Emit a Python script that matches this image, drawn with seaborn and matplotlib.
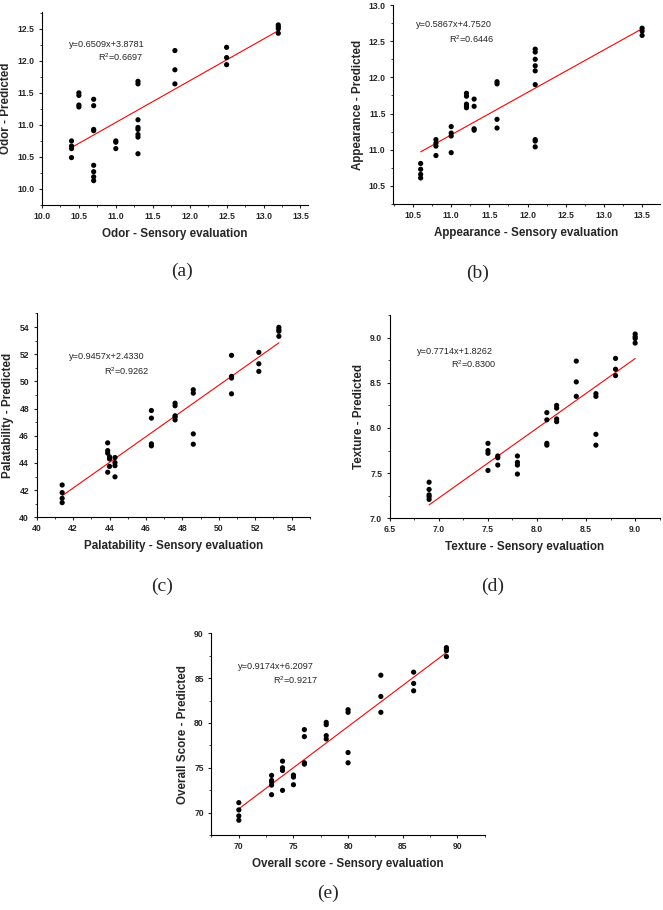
import numpy as np
import pandas as pd
import matplotlib
matplotlib.use("Agg")
import matplotlib.pyplot as plt
from matplotlib.ticker import MultipleLocator, FormatStrFormatter
import seaborn as sns

# ---- data (sensory evaluation vs. predicted) ----
odor_x = [10.4] * 4 + [10.5] * 4 + [10.7] * 8 + [11.0] * 3 + [11.3] * 8 + [11.8] * 3 + [12.5] * 3 + [13.2] * 4
odor_y = [10.75, 10.67, 10.63, 10.49,
          11.50, 11.46, 11.31, 11.28,
          11.40, 11.30, 10.93, 10.91, 10.37, 10.27, 10.19, 10.13,
          10.75, 10.73, 10.63,
          11.68, 11.64, 11.08, 10.96, 10.93, 10.85, 10.81, 10.55,
          12.16, 11.86, 11.64,
          12.21, 12.05, 11.94,
          12.56, 12.53, 12.50, 12.43]

app_x = [10.6] * 4 + [10.8] * 4 + [11.0] * 4 + [11.2] * 5 + [11.3] * 4 + [11.6] * 4 + [12.1] * 9 + [13.5] * 3
app_y = [10.81, 10.73, 10.66, 10.61,
         11.14, 11.09, 11.05, 10.92,
         11.32, 11.23, 11.19, 10.96,
         11.78, 11.74, 11.63, 11.60, 11.58,
         11.70, 11.60, 11.29, 11.27,
         11.94, 11.91, 11.42, 11.30,
         12.39, 12.35, 12.25, 12.16, 12.09, 11.90, 11.14, 11.12, 11.04,
         12.68, 12.64, 12.58]

pal_x = [41.4] * 4 + [43.9] * 4 + [44.0] * 3 + [44.3] * 4 + [46.3] * 4 + [47.6] * 5 + [48.6] * 4 + [50.7] * 4 + [52.2] * 3 + [53.3] * 4
pal_y = [42.38, 41.82, 41.40, 41.08,
         45.48, 44.91, 44.72, 43.32,
         44.45, 44.30, 43.75,
         44.40, 44.03, 43.80, 42.98,
         47.86, 47.30, 45.41, 45.26,
         48.40, 48.21, 47.47, 47.37, 47.17,
         49.39, 49.14, 46.14, 45.38,
         51.92, 50.37, 50.25, 49.09,
         52.14, 51.30, 50.74,
         53.98, 53.81, 53.69, 53.32]

tex_x = [6.9] * 5 + [7.5] * 4 + [7.6] * 3 + [7.8] * 4 + [8.1] * 4 + [8.2] * 4 + [8.4] * 3 + [8.6] * 4 + [8.8] * 3 + [9.0] * 4
tex_y = [7.40, 7.32, 7.26, 7.24, 7.21,
         7.83, 7.75, 7.72, 7.53,
         7.69, 7.67, 7.59,
         7.69, 7.62, 7.59, 7.49,
         8.17, 8.09, 7.83, 7.81,
         8.25, 8.22, 8.10, 8.07,
         8.74, 8.51, 8.35,
         8.38, 8.35, 7.93, 7.81,
         8.77, 8.65, 8.58,
         9.04, 9.01, 8.99, 8.94]

ovr_x = [70] * 4 + [73] * 5 + [74] * 4 + [75] * 3 + [76] * 4 + [78] * 4 + [80] * 4 + [83] * 3 + [86] * 3 + [89] * 4
ovr_y = [71.11, 70.30, 69.63, 69.15,
         74.15, 73.59, 73.41, 73.07, 72.00,
         75.74, 75.00, 74.70, 72.48,
         74.19, 73.96, 73.11,
         79.26, 78.48, 75.56, 75.41,
         80.07, 79.81, 78.59, 78.22,
         81.48, 81.19, 76.70, 75.56,
         85.33, 82.96, 81.19,
         85.67, 84.41, 83.59,
         88.41, 88.22, 88.07, 87.41]

slopes = [0.6509, 0.5867, 0.9457, 0.7714, 0.9174]
intercepts = [3.8781, 4.7520, 2.4330, 1.8262, 6.2097]
r_squared = ["0.6697", "0.6446", "0.9262", "0.8300", "0.9217"]
equations = ["y=0.6509x+3.8781", "y=0.5867x+4.7520", "y=0.9457x+2.4330",
             "y=0.7714x+1.8262", "y=0.9174x+6.2097"]
x_labels = ["Odor - Sensory evaluation", "Appearance - Sensory evaluation",
            "Palatability - Sensory evaluation", "Texture - Sensory evaluation",
            "Overall score - Sensory evaluation"]
y_labels = ["Odor - Predicted", "Appearance - Predicted", "Palatability - Predicted",
            "Texture - Predicted", "Overall Score - Predicted"]
panel_tags = ["(a)", "(b)", "(c)", "(d)", "(e)"]

sns.set_style("ticks")
plt.rcParams["font.family"] = ["Liberation Sans", "DejaVu Sans"]
plt.rcParams["mathtext.default"] = "regular"

# axes boxes in figure fractions, limits, tick steps, text placements
boxes = [
    [0.0633, 0.7747, 0.401, 0.212],
    [0.593, 0.7758, 0.402, 0.2187],
    [0.0553, 0.4315, 0.412, 0.224],
    [0.588, 0.4304, 0.407, 0.2234],
    [0.319, 0.0824, 0.412, 0.2216],
]
xlims = [(10.0, 13.6), (10.24, 13.73), (40, 55), (6.5, 9.25), (67.5, 92.5)]
ylims = [(9.75, 12.76), (10.25, 13.0), (40, 55), (7.0, 9.25), (67.5, 90)]
xticks = [(10.0, 13.5, 0.5), (10.5, 13.5, 0.5), (40, 54, 2), (6.5, 9.0, 0.5), (70, 90, 5)]
yticks = [(10.0, 12.5, 0.5), (10.5, 13.0, 0.5), (40, 54, 2), (7.0, 9.0, 0.5), (70, 90, 5)]
fmts = ["%.1f", "%.1f", "%d", "%.1f", "%d"]
eq_pos = [(0.10, 0.83), (0.087, 0.90), (0.12, 0.788), (0.101, 0.82), (0.098, 0.838)]
r2_pos = [(0.38, 0.764), (0.379, 0.83), (0.411, 0.717), (0.395, 0.759), (0.39, 0.769)]
tag_pos = [(181.7, 271.7), (478, 273), (161.7, 586.7), (493, 586.7), (328, 893)]

datasets = [(odor_x, odor_y), (app_x, app_y), (pal_x, pal_y), (tex_x, tex_y), (ovr_x, ovr_y)]

fig = plt.figure(figsize=(6.63, 9.10), dpi=100)

for i, (xs, ys) in enumerate(datasets):
    ax = fig.add_axes(boxes[i])
    df = pd.DataFrame({"x": xs, "y": ys})
    sns.scatterplot(data=df, x="x", y="y", ax=ax, color="black", s=14,
                    edgecolor="none", zorder=3)
    fit = pd.DataFrame({"x": [df["x"].min(), df["x"].max()]})
    fit["y"] = slopes[i] * fit["x"] + intercepts[i]
    sns.lineplot(data=fit, x="x", y="y", ax=ax, color="red", linewidth=0.8, zorder=2)

    ax.set_xlim(*xlims[i])
    ax.set_ylim(*ylims[i])
    ax.xaxis.set_major_locator(MultipleLocator(xticks[i][2]))
    ax.xaxis.set_minor_locator(MultipleLocator(xticks[i][2] / 2))
    ax.yaxis.set_major_locator(MultipleLocator(yticks[i][2]))
    ax.yaxis.set_minor_locator(MultipleLocator(yticks[i][2] / 2))
    ax.xaxis.set_major_formatter(FormatStrFormatter(fmts[i]))
    ax.yaxis.set_major_formatter(FormatStrFormatter(fmts[i]))
    ax.tick_params(which="major", length=2.5, width=0.8, labelsize=6.2)
    ax.tick_params(axis="x", which="major", pad=2.5)
    ax.tick_params(axis="y", which="major", pad=3)
    ax.tick_params(which="minor", length=1.4, width=0.6)
    for lab in ax.get_xticklabels() + ax.get_yticklabels():
        lab.set_fontweight("bold")
    sns.despine(ax=ax)
    for sp in ["left", "bottom"]:
        ax.spines[sp].set_linewidth(0.8)
        ax.spines[sp].set_color("black")

    ax.set_xlabel(x_labels[i], fontsize=8.4, fontweight="bold", labelpad=5)
    ax.set_ylabel(y_labels[i], fontsize=8.4, fontweight="bold", labelpad=3.5)

    ax.text(eq_pos[i][0], eq_pos[i][1], equations[i], transform=ax.transAxes,
            fontsize=6.6, ha="left", va="center")
    ax.text(r2_pos[i][0], r2_pos[i][1], "R$^2$=" + r_squared[i], transform=ax.transAxes,
            fontsize=6.6, ha="right", va="center")

    fig.text(tag_pos[i][0] / 663, 1 - tag_pos[i][1] / 910, panel_tags[i],
             fontsize=14, family=["Liberation Serif", "DejaVu Serif"],
             ha="center", va="center")

fig.savefig("out.png", dpi=100)
